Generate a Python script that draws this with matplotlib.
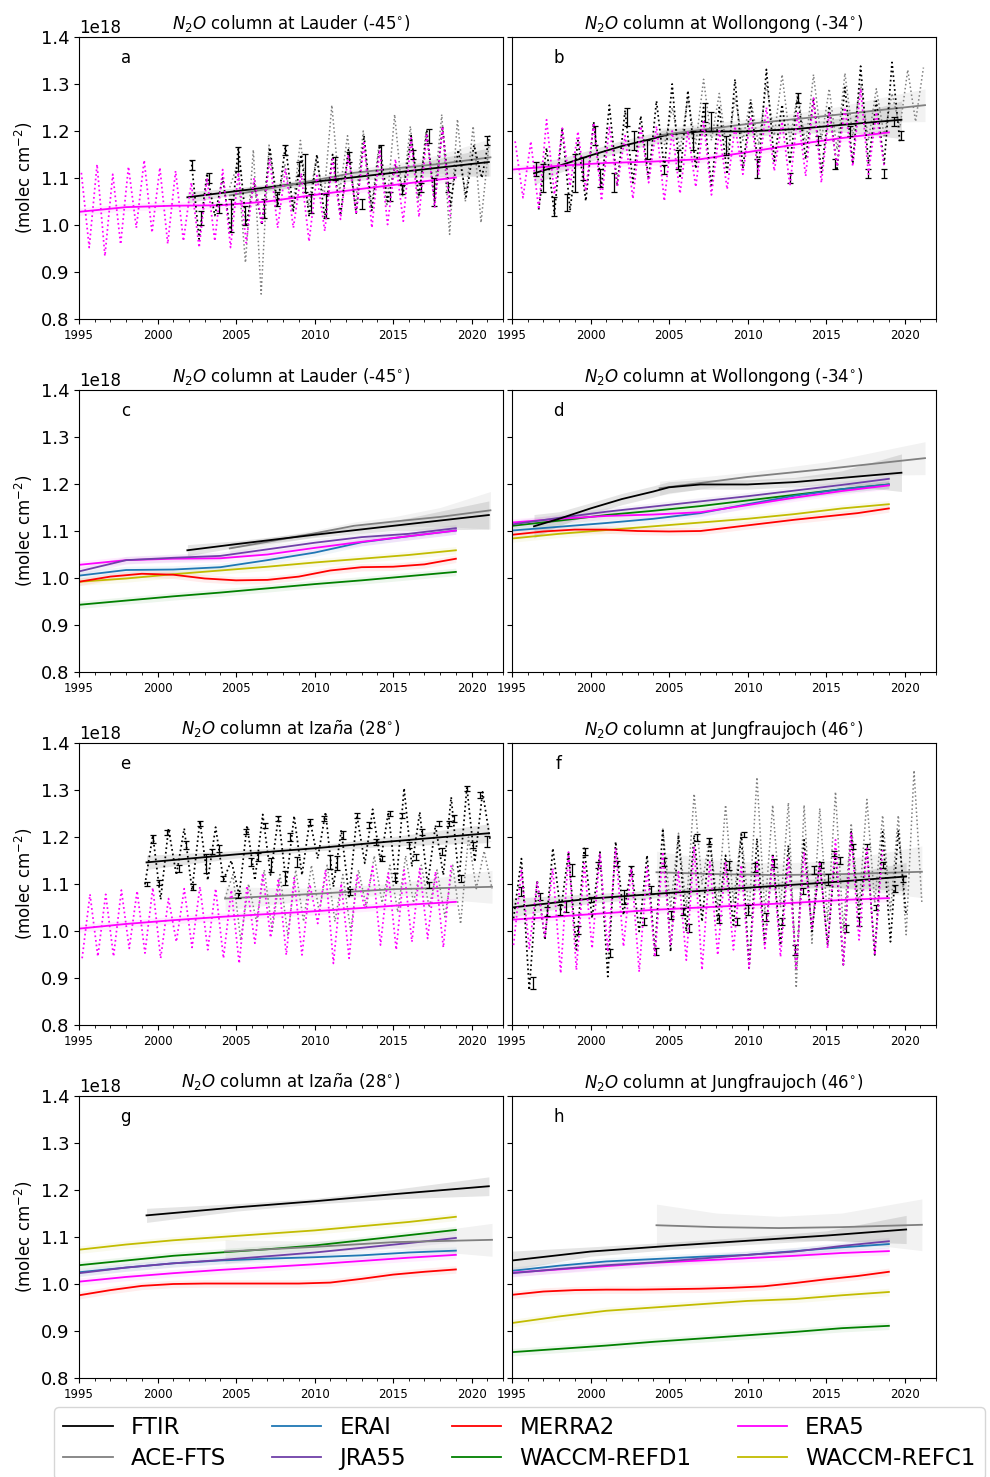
import numpy as np
import matplotlib
matplotlib.use('Agg')
import matplotlib.pyplot as plt
from matplotlib.lines import Line2D
from matplotlib.ticker import MultipleLocator

SCALE = 1e18
STEP = 0.5

# ---------------- station titles ----------------
titles = {
    'lau': r'$N_2O$ column at Lauder (-45$^{\circ}$)',
    'wol': r'$N_2O$ column at Wollongong (-34$^{\circ}$)',
    'iza': r'$N_2O$ column at Iza$\tilde{n}$a (28$^{\circ}$)',
    'jun': r'$N_2O$ column at Jungfraujoch (46$^{\circ}$)',
}

# ---------------- trend curves (units 1e18 molec cm-2) ----------------
MODEL_YEARS = [1995, 1998, 2001, 2004, 2007, 2010, 2013, 2016, 2019]
MERRA2_YEARS = [1995, 1997, 1999, 2001, 2003, 2005, 2007, 2009, 2011, 2013, 2015, 2017, 2019]

lau_erai = [1.005, 1.017, 1.018, 1.023, 1.038, 1.054, 1.076, 1.089, 1.101]
lau_merra2 = [0.992, 1.003, 1.009, 1.007, 0.999, 0.995, 0.996, 1.003, 1.016, 1.023, 1.024, 1.029, 1.041]
lau_era5 = [1.028, 1.038, 1.041, 1.042, 1.050, 1.064, 1.077, 1.089, 1.101]
lau_jra55 = [1.014, 1.038, 1.043, 1.047, 1.061, 1.075, 1.087, 1.094, 1.106]
lau_refd1 = [0.943, 0.952, 0.961, 0.969, 0.978, 0.987, 0.995, 1.004, 1.013]
lau_refc1 = [0.992, 0.999, 1.008, 1.016, 1.024, 1.033, 1.041, 1.049, 1.059]

wol_erai = [1.101, 1.109, 1.117, 1.126, 1.138, 1.157, 1.175, 1.189, 1.199]
wol_merra2 = [1.092, 1.099, 1.103, 1.103, 1.100, 1.099, 1.100, 1.108, 1.116, 1.124, 1.131, 1.138, 1.148]
wol_era5 = [1.118, 1.126, 1.132, 1.135, 1.140, 1.155, 1.171, 1.185, 1.197]
wol_jra55 = [1.114, 1.128, 1.141, 1.152, 1.163, 1.174, 1.186, 1.198, 1.211]
wol_refd1 = [1.111, 1.122, 1.134, 1.143, 1.153, 1.165, 1.177, 1.189, 1.199]
wol_refc1 = [1.084, 1.094, 1.102, 1.110, 1.118, 1.126, 1.136, 1.148, 1.157]

iza_erai = [1.025, 1.035, 1.044, 1.050, 1.054, 1.057, 1.061, 1.067, 1.071]
iza_merra2 = [0.976, 0.987, 0.996, 1.000, 1.001, 1.001, 1.001, 1.001, 1.003, 1.011, 1.020, 1.026, 1.031]
iza_era5 = [1.005, 1.015, 1.023, 1.030, 1.036, 1.042, 1.049, 1.056, 1.062]
iza_jra55 = [1.023, 1.035, 1.044, 1.051, 1.059, 1.067, 1.077, 1.087, 1.098]
iza_refd1 = [1.040, 1.050, 1.060, 1.067, 1.074, 1.082, 1.093, 1.104, 1.115]
iza_refc1 = [1.073, 1.084, 1.093, 1.100, 1.107, 1.114, 1.123, 1.132, 1.143]

jun_erai = [1.028, 1.039, 1.048, 1.053, 1.058, 1.062, 1.070, 1.078, 1.085]
jun_merra2 = [0.977, 0.984, 0.987, 0.988, 0.988, 0.989, 0.990, 0.992, 0.995, 1.002, 1.010, 1.017, 1.026]
jun_era5 = [1.024, 1.031, 1.038, 1.045, 1.050, 1.055, 1.060, 1.066, 1.070]
jun_jra55 = [1.023, 1.032, 1.040, 1.046, 1.054, 1.062, 1.069, 1.081, 1.091]
jun_refd1 = [0.855, 0.862, 0.869, 0.877, 0.884, 0.891, 0.898, 0.906, 0.911]
jun_refc1 = [0.917, 0.931, 0.943, 0.950, 0.957, 0.964, 0.968, 0.976, 0.983]

MODEL_UNC = 0.008

lau_ftir_tx = [2001.9, 2005, 2010, 2015, 2021.1]
lau_ftir_ty = [1.059, 1.072, 1.092, 1.111, 1.134]
lau_ftir_tu = [0.012, 0.007, 0.006, 0.010, 0.030]
lau_ace_tx = [2004.6, 2007, 2010, 2012.5, 2015, 2018, 2021.2]
lau_ace_ty = [1.063, 1.077, 1.095, 1.111, 1.120, 1.130, 1.144]
lau_ace_tu = [0.012, 0.008, 0.007, 0.008, 0.010, 0.020, 0.040]

wol_ftir_tx = [1996.4, 1998, 2000, 2002, 2004, 2005, 2007, 2010, 2013, 2016, 2019.8]
wol_ftir_ty = [1.110, 1.126, 1.148, 1.168, 1.184, 1.193, 1.199, 1.199, 1.204, 1.213, 1.224]
wol_ftir_tu = [0.025, 0.015, 0.012, 0.012, 0.012, 0.012, 0.010, 0.010, 0.010, 0.015, 0.040]
wol_ace_tx = [2004.4, 2010, 2015, 2021.3]
wol_ace_ty = [1.191, 1.215, 1.232, 1.255]
wol_ace_tu = [0.015, 0.010, 0.015, 0.035]

iza_ftir_tx = [1999.3, 2005, 2010, 2015, 2021.1]
iza_ftir_ty = [1.146, 1.163, 1.176, 1.191, 1.208]
iza_ftir_tu = [0.015, 0.008, 0.006, 0.010, 0.020]
iza_ace_tx = [2004.3, 2010, 2015, 2021.3]
iza_ace_ty = [1.069, 1.079, 1.089, 1.094]
iza_ace_tu = [0.025, 0.012, 0.012, 0.035]

jun_ftir_tx = [1995, 2000, 2005, 2010, 2015, 2020.1]
jun_ftir_ty = [1.050, 1.069, 1.081, 1.092, 1.103, 1.116]
jun_ftir_tu = [0.020, 0.010, 0.008, 0.008, 0.010, 0.030]
jun_ace_tx = [2004.2, 2008, 2012, 2016, 2021.1]
jun_ace_ty = [1.125, 1.121, 1.119, 1.121, 1.126]
jun_ace_tu = [0.045, 0.030, 0.025, 0.030, 0.055]

# ---------------- half-yearly sampled columns (peaks / troughs) ----------------
lau_era5_start = 1995.15
lau_era5_m = [1.111, 0.952, 1.129, 0.934, 1.108, 0.959, 1.124, 0.994, 1.138, 0.984,
              1.122, 0.960, 1.115, 0.966, 1.090, 0.952, 1.100, 0.966, 1.118, 0.952,
              1.112, 0.962, 1.100, 1.001, 1.140, 0.994, 1.120, 0.994, 1.110, 0.965,
              1.105, 0.987, 1.140, 1.012, 1.150, 1.023, 1.175, 0.994, 1.160, 1.001,
              1.140, 1.008, 1.185, 1.017, 1.195, 1.037, 1.210, 1.016]
lau_ftir_start = 2002.15
lau_ftir_m = [1.138, 0.970, 1.110, 1.020, 1.100, 0.985, 1.167, 1.000, 1.090, 1.000,
              1.165, 1.040, 1.170, 1.030, 1.150, 1.020, 1.150, 1.015, 1.150, 1.020,
              1.160, 1.025, 1.190, 1.030, 1.170, 1.050, 1.130, 1.070, 1.190, 1.060,
              1.200, 1.050, 1.210, 1.040, 1.160, 1.060, 1.170, 1.100, 1.190]
lau_ace_start = 2004.6
lau_ace_m = [1.080, 1.130, 0.920, 1.160, 0.853, 1.170, 1.040, 1.130, 1.030, 1.180,
             1.040, 1.140, 1.060, 1.255, 1.070, 1.190, 1.040, 1.200, 1.030, 1.170,
             1.040, 1.235, 1.060, 1.210, 1.050, 1.200, 1.060, 1.235, 0.980, 1.225,
             1.050, 1.210, 1.005, 1.170]
lau_err_x = [2002.2, 2002.8, 2003.3, 2003.9, 2004.7, 2005.1, 2005.6, 2006.8, 2007.6, 2008.1,
             2009.0, 2009.4, 2009.8, 2010.7, 2011.3, 2012.2, 2013.0, 2014.2, 2014.8, 2015.6,
             2016.3, 2016.8, 2017.3, 2017.6, 2018.5, 2021.0]
lau_err_y = [1.128, 1.015, 1.100, 1.035, 1.020, 1.140, 1.020, 1.035, 1.055, 1.160,
             1.120, 1.110, 1.045, 1.040, 1.120, 1.145, 1.045, 1.140, 1.060, 1.075,
             1.150, 1.080, 1.190, 1.070, 1.080, 1.180]
lau_err_e = [0.010, 0.015, 0.010, 0.010, 0.035, 0.025, 0.020, 0.020, 0.015, 0.010,
             0.015, 0.040, 0.020, 0.025, 0.025, 0.010, 0.010, 0.030, 0.010, 0.010,
             0.010, 0.010, 0.015, 0.030, 0.010, 0.010]

wol_era5_start = 1995.2
wol_era5_m = [1.178, 1.058, 1.178, 1.033, 1.224, 1.065, 1.206, 1.083, 1.199, 1.072,
              1.217, 1.052, 1.210, 1.083, 1.190, 1.056, 1.210, 1.090, 1.210, 1.051,
              1.200, 1.067, 1.200, 1.081, 1.220, 1.064, 1.200, 1.076, 1.210, 1.108,
              1.230, 1.108, 1.250, 1.115, 1.220, 1.083, 1.240, 1.104, 1.270, 1.090,
              1.240, 1.125, 1.250, 1.125, 1.290, 1.108, 1.240, 1.125]
wol_ftir_start = 1996.7
wol_ftir_m = [1.033, 1.164, 1.023, 1.207, 1.031, 1.180, 1.051, 1.220, 1.080, 1.255,
              1.083, 1.244, 1.090, 1.232, 1.097, 1.264, 1.120, 1.300, 1.100, 1.286,
              1.120, 1.250, 1.080, 1.250, 1.108, 1.310, 1.120, 1.260, 1.120, 1.331,
              1.136, 1.256, 1.130, 1.275, 1.140, 1.270, 1.112, 1.253, 1.120, 1.293,
              1.130, 1.338, 1.130, 1.264, 1.130, 1.346, 1.176]
wol_ace_start = 2004.7
wol_ace_m = [1.170, 1.250, 1.160, 1.270, 1.170, 1.310, 1.180, 1.280, 1.150, 1.270,
             1.180, 1.270, 1.170, 1.300, 1.190, 1.320, 1.180, 1.280, 1.170, 1.320,
             1.180, 1.290, 1.160, 1.323, 1.190, 1.300, 1.180, 1.290, 1.190, 1.280,
             1.207, 1.330, 1.220, 1.335]
wol_err_x = [1996.5, 1997.0, 1997.7, 1998.5, 1999.0, 1999.5, 2000.3, 2000.6, 2001.5, 2002.3,
             2002.8, 2003.6, 2004.7, 2005.6, 2006.5, 2007.3, 2007.7, 2008.6, 2010.6, 2012.7,
             2013.2, 2014.5, 2015.6, 2016.5, 2017.7, 2018.7, 2019.3, 2019.8]
wol_err_y = [1.120, 1.100, 1.040, 1.047, 1.110, 1.120, 1.190, 1.100, 1.090, 1.230,
             1.180, 1.160, 1.118, 1.140, 1.180, 1.240, 1.220, 1.170, 1.120, 1.100,
             1.270, 1.180, 1.130, 1.200, 1.110, 1.110, 1.220, 1.190]
wol_err_e = [0.015, 0.030, 0.020, 0.018, 0.040, 0.025, 0.020, 0.020, 0.020, 0.020,
             0.020, 0.020, 0.010, 0.020, 0.020, 0.020, 0.020, 0.020, 0.020, 0.010,
             0.010, 0.010, 0.010, 0.010, 0.010, 0.010, 0.010, 0.010]

iza_era5_start = 1995.2
iza_era5_m = [0.942, 1.078, 0.946, 1.078, 0.946, 1.087, 0.963, 1.085, 0.953, 1.092,
              0.942, 1.069, 0.977, 1.090, 0.965, 1.094, 0.960, 1.090, 0.942, 1.087,
              0.931, 1.096, 0.974, 1.123, 0.986, 1.112, 0.949, 1.113, 0.949, 1.099,
              1.016, 1.130, 0.931, 1.101, 0.942, 1.120, 1.048, 1.137, 0.970, 1.123,
              0.960, 1.130, 0.977, 1.133, 0.984, 1.126, 0.965, 1.140]
iza_ftir_start = 1999.2
iza_ftir_m = [1.099, 1.204, 1.067, 1.218, 1.119, 1.218, 1.087, 1.234, 1.108, 1.221,
              1.108, 1.150, 1.076, 1.225, 1.108, 1.248, 1.119, 1.243, 1.101, 1.245,
              1.119, 1.237, 1.154, 1.253, 1.094, 1.215, 1.073, 1.246, 1.144, 1.259,
              1.147, 1.253, 1.098, 1.304, 1.137, 1.253, 1.098, 1.225, 1.119, 1.285,
              1.108, 1.306, 1.147, 1.296, 1.190]
iza_ace_start = 2004.3
iza_ace_m = [1.070, 1.120, 0.980, 1.100, 1.020, 1.130, 1.000, 1.120, 0.990, 1.130,
             1.020, 1.140, 1.040, 1.140, 1.020, 1.120, 1.000, 1.130, 1.050, 1.160,
             1.060, 1.140, 1.040, 1.160, 1.060, 1.140, 1.050, 1.130, 1.030, 1.140,
             1.015, 1.200, 1.090, 1.170, 1.090]
iza_err_x = [1999.3, 1999.7, 2000.1, 2000.6, 2001.35, 2001.8, 2002.25, 2002.7, 2003.1, 2003.5,
             2003.9, 2004.2, 2005.1, 2005.65, 2005.95, 2006.4, 2006.85, 2007.2, 2007.65, 2008.1,
             2008.45, 2008.9, 2009.7, 2010.6, 2011.0, 2011.4, 2011.8, 2012.25, 2012.7, 2013.45,
             2013.9, 2014.3, 2014.8, 2015.15, 2015.6, 2016.0, 2016.45, 2016.85, 2017.3, 2017.95,
             2018.1, 2018.55, 2018.85, 2019.35, 2019.7, 2020.1, 2020.55, 2021.0]
iza_err_y = [1.100, 1.196, 1.103, 1.210, 1.133, 1.183, 1.093, 1.229, 1.144, 1.169,
             1.176, 1.112, 1.076, 1.211, 1.147, 1.158, 1.225, 1.140, 1.239, 1.112,
             1.200, 1.147, 1.232, 1.239, 1.147, 1.144, 1.204, 1.083, 1.246, 1.225,
             1.190, 1.154, 1.250, 1.115, 1.246, 1.183, 1.158, 1.211, 1.098, 1.229,
             1.169, 1.229, 1.239, 1.112, 1.303, 1.183, 1.289, 1.190]
iza_err_e = [0.005, 0.008, 0.006, 0.005, 0.008, 0.008, 0.006, 0.005, 0.020, 0.006,
             0.008, 0.006, 0.005, 0.005, 0.008, 0.008, 0.005, 0.015, 0.005, 0.015,
             0.008, 0.010, 0.006, 0.006, 0.015, 0.015, 0.008, 0.006, 0.005, 0.006,
             0.006, 0.006, 0.006, 0.008, 0.005, 0.006, 0.006, 0.006, 0.006, 0.006,
             0.008, 0.006, 0.008, 0.008, 0.006, 0.006, 0.006, 0.012]

jun_era5_start = 1995.1
jun_era5_m = [0.970, 1.129, 0.963, 1.105, 0.988, 1.133, 0.910, 1.168, 0.917, 1.144,
              0.963, 1.165, 0.956, 1.176, 0.967, 1.133, 0.913, 1.136, 0.945, 1.168,
              0.970, 1.126, 0.938, 1.179, 0.917, 1.147, 0.949, 1.147, 0.960, 1.140,
              0.921, 1.147, 0.963, 1.158, 0.945, 1.154, 0.921, 1.168, 1.006, 1.147,
              0.963, 1.194, 0.928, 1.208, 0.981, 1.176, 0.949, 1.176]
jun_ftir_start = 1995.1
jun_ftir_m = [1.027, 1.154, 0.874, 1.108, 0.981, 1.176, 1.041, 1.168, 0.960, 1.176,
              1.027, 1.168, 0.903, 1.190, 1.034, 1.136, 0.999, 1.161, 0.956, 1.218,
              0.956, 1.204, 0.999, 1.204, 1.020, 1.194, 1.020, 1.161, 1.013, 1.206,
              0.921, 1.197, 0.970, 1.165, 0.970, 1.182, 0.921, 1.194, 0.999, 1.147,
              0.970, 1.168, 0.928, 1.211, 1.027, 1.179, 0.949, 1.211, 0.977, 1.214,
              1.034]
jun_ace_start = 2004.6
jun_ace_m = [1.218, 1.050, 1.208, 1.050, 1.292, 1.100, 1.200, 1.050, 1.268, 1.060,
             1.210, 1.040, 1.327, 1.040, 1.268, 1.050, 1.273, 0.879, 1.268, 0.974,
             1.261, 1.020, 1.296, 1.000, 1.229, 1.050, 1.280, 1.060, 1.246, 1.040,
             1.246, 0.992, 1.342, 1.060]
jun_err_x = [1995.55, 1996.35, 1996.8, 1997.2, 1998.05, 1998.45, 1998.8, 1999.2, 1999.65, 2000.0,
             2000.5, 2001.25, 2001.7, 2002.15, 2002.6, 2003.4, 2003.85, 2004.2, 2004.65, 2005.1,
             2005.9, 2006.3, 2006.75, 2007.55, 2008.2, 2008.85, 2009.3, 2009.75, 2010.05, 2010.5,
             2011.2, 2011.7, 2012.2, 2013.05, 2013.5, 2014.25, 2014.7, 2015.1, 2015.5, 2015.9,
             2016.3, 2016.7, 2017.1, 2017.6, 2018.2, 2018.6, 2019.4, 2019.9]
jun_err_y = [1.084, 0.889, 1.073, 1.041, 1.045, 1.052, 1.130, 1.002, 1.169, 1.067,
             1.141, 0.953, 1.144, 1.073, 1.130, 1.020, 1.087, 0.956, 1.147, 1.034,
             1.041, 1.006, 1.199, 1.192, 1.025, 1.140, 1.020, 1.205, 1.045, 1.135,
             1.030, 1.145, 1.020, 0.960, 1.085, 1.130, 1.140, 1.110, 1.165, 1.150,
             1.005, 1.180, 1.020, 1.180, 1.050, 1.140, 1.090, 1.110]
jun_err_e = [0.010, 0.013, 0.008, 0.010, 0.010, 0.012, 0.012, 0.008, 0.008, 0.006,
             0.006, 0.008, 0.006, 0.015, 0.008, 0.008, 0.008, 0.008, 0.008, 0.008,
             0.008, 0.008, 0.008, 0.006, 0.008, 0.010, 0.008, 0.006, 0.010, 0.010,
             0.008, 0.008, 0.008, 0.010, 0.006, 0.008, 0.006, 0.012, 0.006, 0.008,
             0.008, 0.006, 0.010, 0.006, 0.006, 0.006, 0.008, 0.006]

# ---------------- styling ----------------
C_FTIR, C_ACE = 'black', 'grey'
C_ERAI, C_MERRA2, C_ERA5 = '#1f77b4', 'red', 'magenta'
C_JRA55, C_REFD1, C_REFC1 = '#7040a8', 'green', '#c2bc00'

st = {}
for k in ['lau', 'wol', 'iza', 'jun']:
    g = globals()
    st[k] = {n: g[f'{k}_{n}'] for n in
             ['erai', 'merra2', 'era5', 'jra55', 'refd1', 'refc1',
              'ftir_tx', 'ftir_ty', 'ftir_tu', 'ace_tx', 'ace_ty', 'ace_tu',
              'era5_start', 'era5_m', 'ftir_start', 'ftir_m', 'ace_start', 'ace_m',
              'err_x', 'err_y', 'err_e']}


def sampled_x(start, vals):
    return start + STEP * np.arange(len(vals))


def trend(ax, x, y, u, color, lw=1.3, alpha=0.12):
    x = np.asarray(x)
    y = np.asarray(y) * SCALE
    u = np.asarray(u) * SCALE
    ax.fill_between(x, y - u, y + u, color=color, alpha=alpha, lw=0)
    ax.plot(x, y, color=color, lw=lw)


def model_trend(ax, vals, color, years=MODEL_YEARS):
    y = np.asarray(vals)
    trend(ax, years, y, np.full(len(y), MODEL_UNC), color, alpha=0.07)


W, H = 990, 1477
fig = plt.figure(figsize=(W / 100, H / 100), dpi=100)

left_x0, right_x0, ax_w = 79, 512, 424
row_tops = [37, 390, 743, 1096]
ax_h = 282

layout = [
    ('a', 'lau', 'obs', 0, 0), ('b', 'wol', 'obs', 0, 1),
    ('c', 'lau', 'mod', 1, 0), ('d', 'wol', 'mod', 1, 1),
    ('e', 'iza', 'obs', 2, 0), ('f', 'jun', 'obs', 2, 1),
    ('g', 'iza', 'mod', 3, 0), ('h', 'jun', 'mod', 3, 1),
]

for letter, key, kind, r, c in layout:
    x0 = left_x0 if c == 0 else right_x0
    top = row_tops[r]
    ax = fig.add_axes([x0 / W, 1 - (top + ax_h) / H, ax_w / W, ax_h / H])
    d = st[key]
    if kind == 'obs':
        ax.plot(sampled_x(d['ace_start'], d['ace_m']), np.asarray(d['ace_m']) * SCALE,
                ls=':', color=C_ACE, lw=1.1, zorder=2)
        ax.plot(sampled_x(d['ftir_start'], d['ftir_m']), np.asarray(d['ftir_m']) * SCALE,
                ls=':', color=C_FTIR, lw=1.25, zorder=3)
        ax.errorbar(d['err_x'], np.asarray(d['err_y']) * SCALE,
                    yerr=np.asarray(d['err_e']) * SCALE, fmt='none',
                    ecolor='k', elinewidth=0.9, capsize=2, capthick=0.9, zorder=3)
        ax.plot(sampled_x(d['era5_start'], d['era5_m']), np.asarray(d['era5_m']) * SCALE,
                ls=':', color=C_ERA5, lw=1.25, zorder=4)
        trend(ax, d['ftir_tx'], d['ftir_ty'], d['ftir_tu'], C_FTIR, alpha=0.1)
        trend(ax, d['ace_tx'], d['ace_ty'], d['ace_tu'], C_ACE, alpha=0.1)
        model_trend(ax, d['era5'], C_ERA5)
    else:
        model_trend(ax, d['refd1'], C_REFD1)
        model_trend(ax, d['refc1'], C_REFC1)
        model_trend(ax, d['merra2'], C_MERRA2, MERRA2_YEARS)
        model_trend(ax, d['erai'], C_ERAI)
        model_trend(ax, d['era5'], C_ERA5)
        model_trend(ax, d['jra55'], C_JRA55)
        trend(ax, d['ace_tx'], d['ace_ty'], d['ace_tu'], C_ACE, alpha=0.1)
        trend(ax, d['ftir_tx'], d['ftir_ty'], d['ftir_tu'], C_FTIR, alpha=0.1)

    ax.set_xlim(1995, 2022)
    ax.set_ylim(0.8 * SCALE, 1.4 * SCALE)
    ax.xaxis.set_major_locator(MultipleLocator(5))
    ax.xaxis.set_minor_locator(MultipleLocator(1))
    ax.yaxis.set_major_locator(MultipleLocator(0.1 * SCALE))
    ax.tick_params(axis='x', labelsize=8.5)
    ax.tick_params(axis='y', labelsize=13)
    ax.yaxis.get_offset_text().set_fontsize(12)
    ax.set_title(titles[key], fontsize=12, pad=6)
    ax.text(0.11, 0.925, letter, transform=ax.transAxes, fontsize=12,
            ha='center', va='center')
    if c == 0:
        ax.set_ylabel(r'(molec cm$^{-2}$)', fontsize=12)
    else:
        ax.tick_params(axis='y', labelleft=False)

handles = [
    Line2D([], [], color=C_FTIR, lw=1.3), Line2D([], [], color=C_ACE, lw=1.3),
    Line2D([], [], color=C_ERAI, lw=1.3), Line2D([], [], color=C_JRA55, lw=1.3),
    Line2D([], [], color=C_MERRA2, lw=1.3), Line2D([], [], color=C_REFD1, lw=1.3),
    Line2D([], [], color=C_ERA5, lw=1.3), Line2D([], [], color=C_REFC1, lw=1.3),
]
labels = ['FTIR', 'ACE-FTS', 'ERAI', 'JRA55', 'MERRA2', 'WACCM-REFD1', 'ERA5', 'WACCM-REFC1']
fig.legend(handles, labels, ncol=4, loc='upper center',
           bbox_to_anchor=(0.5247, 1 - 1407 / H), fontsize=16.5, frameon=True,
           borderaxespad=0.0, handlelength=2.15, labelspacing=0.35)

fig.savefig('out.png', dpi=100)
